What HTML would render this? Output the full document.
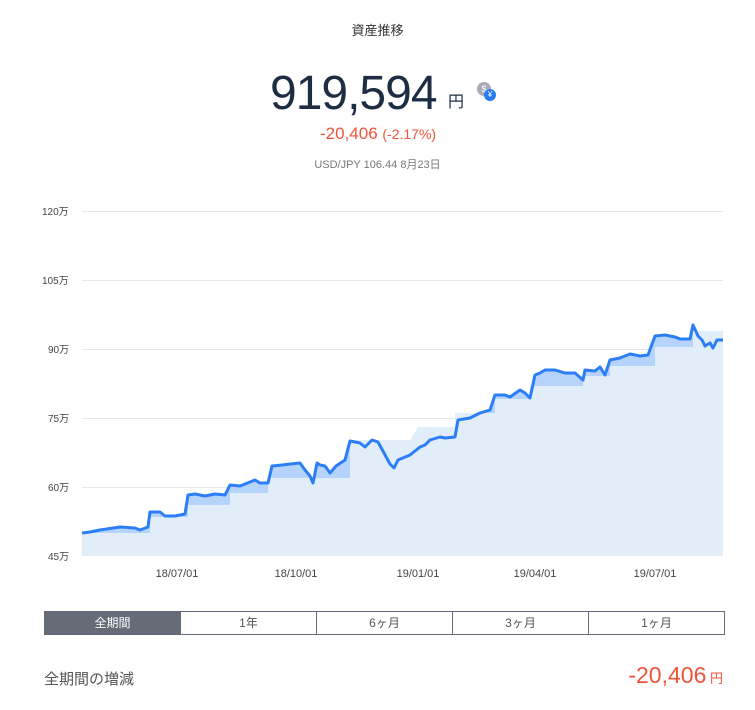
<!DOCTYPE html><html><head><meta charset="utf-8"><style>
body{margin:0;width:755px;height:710px;background:#fff;font-family:"Liberation Sans","Noto Sans CJK JP",sans-serif;position:relative;overflow:hidden}
.a{position:absolute}
</style></head><body>
<div class="a" style="top:20px;left:0;width:755px;text-align:center;font-size:13px;color:#333">資産推移</div>
<div class="a" style="top:66px;left:270px;font-size:48px;color:#1d2d44;font-weight:300;letter-spacing:-1px">919,594</div>
<div class="a" style="top:88px;left:448px;font-size:16px;color:#1d2d44">円</div>
<div class="a" style="top:82px;left:477px;width:14px;height:14px;border-radius:7px;background:#aab;color:#fff;font-size:9px;text-align:center;line-height:14px">$</div>
<div class="a" style="top:89px;left:484px;width:12px;height:12px;border-radius:6px;background:#2a7cf0;color:#fff;font-size:8px;text-align:center;line-height:12px">¥</div>
<div class="a" style="top:124px;left:320px;font-size:17px;color:#f0533a">-20,406 <span style="font-size:14px">(-2.17%)</span></div>
<div class="a" style="top:156px;left:0;width:755px;text-align:center;font-size:11px;color:#777">USD/JPY 106.44 8月23日</div>
<svg class="a" style="left:0;top:0" width="755" height="600">
<g stroke="#e6e6e6" stroke-width="1"><line x1="82" x2="723" y1="211.5" y2="211.5"/><line x1="82" x2="723" y1="280.5" y2="280.5"/><line x1="82" x2="723" y1="349.5" y2="349.5"/><line x1="82" x2="723" y1="418.5" y2="418.5"/><line x1="82" x2="723" y1="487.5" y2="487.5"/></g>
<g font-size="10" fill="#444"><text x="42" y="215">120万</text><text x="42" y="284">105万</text><text x="48" y="353">90万</text><text x="48" y="422">75万</text><text x="48" y="491">60万</text><text x="48" y="560">45万</text></g>
<g font-size="11" fill="#444" text-anchor="middle"><text x="177" y="577">18/07/01</text><text x="296" y="577">18/10/01</text><text x="418" y="577">19/01/01</text><text x="535" y="577">19/04/01</text><text x="655" y="577">19/07/01</text></g>
<polygon fill="#b6d4fb" points="82,556 82,533 90,532 100,530 120,527 135,528 140,530 148,527 150,512 160,512 165,516 175,516 185,514 188,495 195,494 205,496 215,494 225,495 230,485 240,486 245,484 255,480 260,483 268,483 272,466 282,465 290,464 300,463 305,470 310,476 313,483 317,463 320,465 325,466 330,473 336,466 345,460 350,441 360,443 365,447 372,440 378,442 384,453 390,464 394,468 398,460 410,455 420,447 425,445 430,440 440,437 445,438 455,437 458,420 470,418 480,413 490,410 495,395 505,395 510,397 520,390 525,393 530,398 535,375 540,373 545,370 555,370 565,373 575,373 583,380 585,370 595,371 600,367 605,375 610,360 620,358 630,354 640,356 648,355 655,336 665,335 675,337 680,339 690,339 693,325 698,336 702,340 705,346 710,343 713,348 717,340 723,340 723,556"/>
<polygon fill="#e2edfa" points="82,556 82,533 150,533 150,517 188,517 188,505 230,505 230,493 268,493 268,478 350,478 350,440 410,440 418,427 455,427 455,413 495,413 495,399 530,399 530,386 583,386 583,376 610,376 610,366 655,366 655,347 693,347 693,331 723,331 723,556"/>
<polyline fill="none" stroke="#2b7ef5" stroke-width="3" stroke-linejoin="round" points="82,533 90,532 100,530 120,527 135,528 140,530 148,527 150,512 160,512 165,516 175,516 185,514 188,495 195,494 205,496 215,494 225,495 230,485 240,486 245,484 255,480 260,483 268,483 272,466 282,465 290,464 300,463 305,470 310,476 313,483 317,463 320,465 325,466 330,473 336,466 345,460 350,441 360,443 365,447 372,440 378,442 384,453 390,464 394,468 398,460 410,455 420,447 425,445 430,440 440,437 445,438 455,437 458,420 470,418 480,413 490,410 495,395 505,395 510,397 520,390 525,393 530,398 535,375 540,373 545,370 555,370 565,373 575,373 583,380 585,370 595,371 600,367 605,375 610,360 620,358 630,354 640,356 648,355 655,336 665,335 675,337 680,339 690,339 693,325 698,336 702,340 705,346 710,343 713,348 717,340 723,340"/>
</svg>
<div class="a" style="top:611px;left:44px;width:679px;height:22px;border:1px solid #666c77;display:flex;font-size:12px;color:#555">
<div style="flex:1;background:#666c77;color:#fff;text-align:center;line-height:22px">全期間</div>
<div style="flex:1;text-align:center;line-height:22px;border-left:1px solid #666c77">1年</div>
<div style="flex:1;text-align:center;line-height:22px;border-left:1px solid #666c77">6ヶ月</div>
<div style="flex:1;text-align:center;line-height:22px;border-left:1px solid #666c77">3ヶ月</div>
<div style="flex:1;text-align:center;line-height:22px;border-left:1px solid #666c77">1ヶ月</div>
</div>
<div class="a" style="top:668px;left:44px;font-size:15px;color:#555">全期間の増減</div>
<div class="a" style="top:662px;right:32px;font-size:23px;color:#f0533a">-20,406<span style="font-size:13px"> 円</span></div>
</body></html>
